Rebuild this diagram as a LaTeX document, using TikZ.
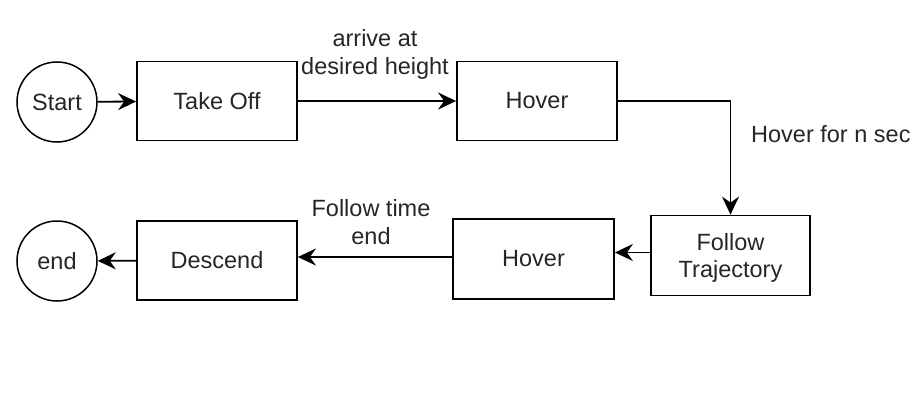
\documentclass[tikz,border=0pt]{standalone}
\usepackage{fontspec}
\setmainfont{Liberation Sans}
\usetikzlibrary{arrows.meta}
\begin{document}
\begin{tikzpicture}[x=1pt,y=-1pt,
  every node/.style={font=\fontsize{23.5}{28}\selectfont, text=black!85},
  statebox/.style={draw=black, line width=1.8pt, minimum width=160pt, minimum height=79pt, inner sep=0pt, align=center},
  termcirc/.style={draw=black, line width=1.5pt, circle, minimum size=80pt, inner sep=0pt},
  flow/.style={line width=1.8pt, -{Stealth[length=18pt,width=17pt,inset=6pt]}},
  lbl/.style={align=center, inner sep=0pt}]
\useasboundingbox[fill=white] (0,0) rectangle (916,412);
\node[termcirc] (start) at (57,102) {Start};
\node[statebox] (takeoff) at (217,101) {Take Off};
\node[statebox] (hover1) at (537,101) {Hover};
\node[statebox, minimum width=159pt, minimum height=80pt, font=\fontsize{23.5}{27}\selectfont, text depth=0pt] (follow) at (730.5,255.5) {Follow\\Trajectory};
\node[statebox, minimum width=161pt, minimum height=80pt] (hover2) at (533.5,259) {Hover};
\node[statebox] (descend) at (217,260.5) {Descend};
\node[termcirc] (endn) at (57,261) {end};
\node[lbl] (l1) at (375,54) {arrive at\\desired height};
\node[lbl, anchor=west] (l2) at (751,134) {Hover for n sec};
\node[lbl] (l3) at (371,222) {Follow time\\end};
\draw[flow] (start) -- (takeoff);
\draw[flow] (takeoff) -- (hover1);
\draw[flow] (hover1.east) -| (follow.north);
\draw[flow] ([yshift=3pt]follow.west) -- ([yshift=3pt]follow.west -| hover2.east);
\draw[flow] ([yshift=2pt]hover2.west) -- ([yshift=2pt]hover2.west -| descend.east);
\draw[flow] (descend) -- (endn);
\end{tikzpicture}
\end{document}
